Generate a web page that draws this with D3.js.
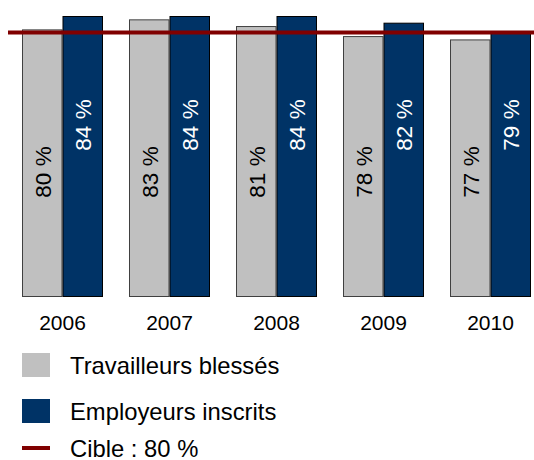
<!DOCTYPE html>
<html>
<head>
<meta charset="utf-8">
<script src="https://cdn.jsdelivr.net/npm/d3@7"></script>
<style>
  body { margin: 0; background: #fff; }
  svg { display: block; font-family: "Liberation Sans", Arial, sans-serif; }
</style>
</head>
<body>
<div id="chart"></div>
<script>
// data
const years = ["2006", "2007", "2008", "2009", "2010"];
const travailleurs = [80, 83, 81, 78, 77];
const employeurs = [84, 84, 84, 82, 79];
const cible = 80;
const seriesNames = ["Travailleurs blessés", "Employeurs inscrits", "Cible : 80 %"];

const width = 534, height = 460;
const svg = d3.select("#chart").append("svg")
    .attr("width", width)
    .attr("height", height);

// scales
const x = d3.scaleBand()
    .domain(years)
    .range([22, 531])
    .paddingInner(0.243)
    .paddingOuter(0);

const sub = d3.scaleBand()
    .domain([0, 1])
    .range([0, x.bandwidth()]);

const y = d3.scaleLinear()
    .domain([0, 84])
    .range([297, 16]);

const colors = ["#c0c0c0", "#003366"];
const strokes = ["#404040", "#000000"];
const textColors = ["#000", "#fff"];
const labelCenter = [125, 172]; // distance above baseline for the value labels

const series = [travailleurs, employeurs];

series.forEach((vals, s) => {
    const g = svg.append("g");
    g.selectAll("rect")
        .data(vals)
        .enter().append("rect")
        .attr("x", (d, i) => x(years[i]) + sub(s) + 0.5)
        .attr("y", d => y(d) + 0.5)
        .attr("width", sub.bandwidth() - 1)
        .attr("height", d => y(0) - y(d) - 1)
        .attr("fill", colors[s])
        .attr("stroke", strokes[s])
        .attr("stroke-width", 1);

    g.selectAll("text")
        .data(vals)
        .enter().append("text")
        .attr("transform", (d, i) => {
            const cx = x(years[i]) + sub(s) + sub.bandwidth() / 2 + 8.5;
            const cy = y(0) - labelCenter[s];
            return `translate(${cx},${cy}) rotate(-90)`;
        })
        .attr("text-anchor", "middle")
        .attr("font-size", 22.5)
        .attr("fill", textColors[s])
        .text(d => `${d} %`);
});

// target line
svg.append("line")
    .attr("x1", 8)
    .attr("x2", width)
    .attr("y1", y(cible) + 3)
    .attr("y2", y(cible) + 3)
    .attr("stroke", "#800000")
    .attr("stroke-width", 4);

// year labels
svg.append("g").selectAll("text")
    .data(years)
    .enter().append("text")
    .attr("x", d => x(d) + x.bandwidth() / 2)
    .attr("y", 330)
    .attr("text-anchor", "middle")
    .attr("font-size", 21)
    .text(d => d);

// legend
const legendY = [365, 411, 448];
const legend = svg.append("g");
seriesNames.forEach((name, i) => {
    if (i < 2) {
        legend.append("rect")
            .attr("x", 22)
            .attr("y", legendY[i] - 12)
            .attr("width", 28)
            .attr("height", 24)
            .attr("fill", colors[i]);
    } else {
        legend.append("rect")
            .attr("x", 22)
            .attr("y", legendY[i] - 2)
            .attr("width", 28)
            .attr("height", 4)
            .attr("fill", "#800000");
    }
    legend.append("text")
        .attr("x", 70)
        .attr("y", legendY[i] + 8.5)
        .attr("font-size", 23.8)
        .text(name);
});
</script>
</body>
</html>
